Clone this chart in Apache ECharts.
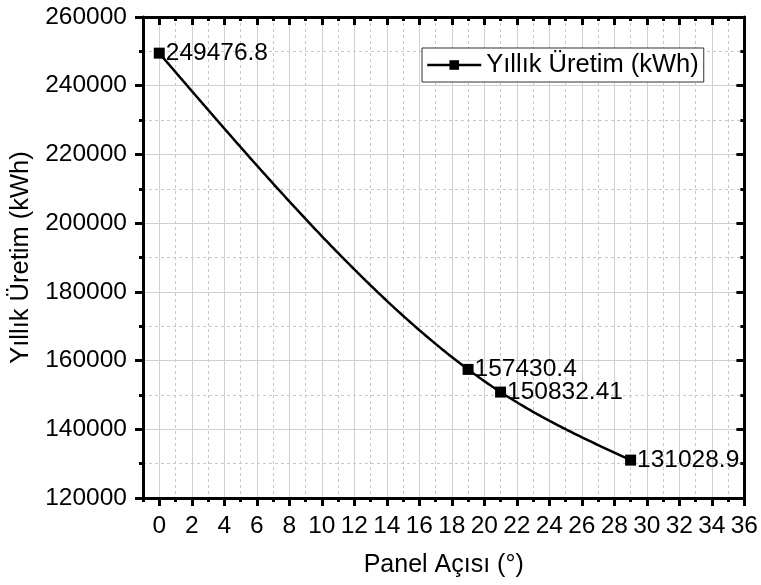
<!DOCTYPE html>
<html>
<head>
<meta charset="utf-8">
<script src="https://cdn.jsdelivr.net/npm/echarts@6/dist/echarts.min.js"></script>
<style>
html, body { margin: 0; padding: 0; background: #fff; }
#chart { width: 761px; height: 585px; }
</style>
</head>
<body>
<div id="chart"></div>
<script>
// chart data
var seriesName = 'Yıllık Üretim (kWh)';
var panelAngles = [0, 19, 21, 29];
var yearlyOutput = [249476.8, 157430.4, 150832.41, 131028.9];
// tick labels
var xTickValues = [0, 2, 4, 6, 8, 10, 12, 14, 16, 18, 20, 22, 24, 26, 28, 30, 32, 34, 36];
var yTickValues = [120000, 140000, 160000, 180000, 200000, 220000, 240000, 260000];

var font = 'Arial, "Liberation Sans", sans-serif';
var xMin = -1, xMax = 36;
var yMin = yTickValues[0], yMax = yTickValues[yTickValues.length - 1];
var yStep = yTickValues[1] - yTickValues[0];

var axisLine = { show: true, onZero: false, lineStyle: { color: '#000', width: 3 } };
var tickLine = { color: '#000', width: 3 };

/**
 * natural cubic spline through the points, like the origin "spline" connect
 */
function makeSpline(xs, ys) {
	var n = xs.length, h = [], m = [], i;
	for (i = 0; i < n - 1; i++) h.push(xs[i + 1] - xs[i]);
	// tridiagonal system for inner second derivatives
	var a = [], b = [], c = [], d = [];
	for (i = 1; i < n - 1; i++) {
		a.push(h[i - 1]);
		b.push(2 * (h[i - 1] + h[i]));
		c.push(h[i]);
		d.push(6 * ((ys[i + 1] - ys[i]) / h[i] - (ys[i] - ys[i - 1]) / h[i - 1]));
	}
	var k = b.length;
	for (i = 1; i < k; i++) {
		var w = a[i] / b[i - 1];
		b[i] -= w * c[i - 1];
		d[i] -= w * d[i - 1];
	}
	var inner = new Array(k);
	for (i = k - 1; i >= 0; i--) {
		inner[i] = (d[i] - (i < k - 1 ? c[i] * inner[i + 1] : 0)) / b[i];
	}
	m = [0].concat(inner, [0]);
	return function(x) {
		var s = 0;
		while (s < n - 2 && x > xs[s + 1]) s++;
		var hs = h[s], x0 = xs[s], x1 = xs[s + 1];
		return m[s] * Math.pow(x1 - x, 3) / (6 * hs)
			+ m[s + 1] * Math.pow(x - x0, 3) / (6 * hs)
			+ (ys[s] / hs - m[s] * hs / 6) * (x1 - x)
			+ (ys[s + 1] / hs - m[s + 1] * hs / 6) * (x - x0);
	};
}
var spline = makeSpline(panelAngles, yearlyOutput);

// minor x axis: every degree, dashed grid
function minorXAxis(pos, inside) {
	return {
		type: 'value', position: pos, min: xMin, max: xMax, interval: 1,
		axisLine: axisLine,
		axisTick: { show: true, inside: inside, length: 4, lineStyle: tickLine },
		axisLabel: { show: false },
		splitLine: { show: pos == 'bottom', lineStyle: { color: '#c8c8c8', width: 1, type: [3, 3] } }
	};
}

// major x axis: even degrees, solid grid
function majorXAxis(pos, inside) {
	return {
		type: 'value', position: pos, min: xMin, max: xMax,
		axisLine: { show: false },
		axisTick: { show: true, inside: inside, length: 8, customValues: xTickValues, lineStyle: tickLine },
		axisLabel: {
			show: pos == 'bottom', customValues: xTickValues, margin: 16,
			fontSize: 24.5, color: '#000', fontFamily: font
		},
		splitLine: { show: pos == 'bottom', lineStyle: { color: '#d0d0d0', width: 1 } }
	};
}

function yAxis(pos, inside) {
	return {
		type: 'value', position: pos, min: yMin, max: yMax, interval: yStep,
		axisLine: axisLine,
		axisTick: { show: true, inside: inside, length: 8, lineStyle: tickLine },
		minorTick: { show: true, splitNumber: 2, length: 4, lineStyle: tickLine },
		axisLabel: {
			show: pos == 'left', margin: 16, fontSize: 24.5, color: '#000', fontFamily: font,
			formatter: function(v) { return String(v); }
		},
		splitLine: { show: pos == 'left', lineStyle: { color: '#d0d0d0', width: 1 } },
		minorSplitLine: { show: pos == 'left', lineStyle: { color: '#c8c8c8', width: 1, type: [3, 3] } }
	};
}

var xBottom = majorXAxis('bottom', false);
xBottom.name = 'Panel Açısı (°)';
xBottom.nameLocation = 'middle';
xBottom.nameGap = 55;
xBottom.nameTextStyle = { fontSize: 25, color: '#000', fontFamily: font };

var yLeft = yAxis('left', false);
yLeft.name = seriesName;
yLeft.nameLocation = 'middle';
yLeft.nameGap = 108;
yLeft.nameTextStyle = { fontSize: 25.5, color: '#000', fontFamily: font };

var option = {
	animation: false,
	backgroundColor: '#fff',
	grid: { left: 143, right: 15, top: 17, bottom: 87 },
	legend: {
		left: 422, top: 48,
		padding: [4, 5, 4, 4],
		borderColor: '#333', borderWidth: 1, borderRadius: 0,
		backgroundColor: '#fff',
		itemWidth: 54, itemHeight: 12,
		lineStyle: { color: '#000', width: 2.5, opacity: 1 },
		textStyle: { fontSize: 25.5, color: '#000', fontFamily: font },
		data: [seriesName]
	},
	xAxis: [
		minorXAxis('bottom', false),
		xBottom,
		minorXAxis('top', true),
		majorXAxis('top', true)
	],
	yAxis: [
		yLeft,
		yAxis('right', true)
	],
	series: [{
		// smooth connecting line, drawn through the axis scales
		name: 'spline',
		type: 'custom',
		coordinateSystem: 'cartesian2d',
		xAxisIndex: 1,
		yAxisIndex: 0,
		silent: true,
		z: 2,
		data: [[panelAngles[0], yearlyOutput[0]]],
		renderItem: function(params, api) {
			var pts = [];
			var x0 = panelAngles[0], x1 = panelAngles[panelAngles.length - 1];
			for (var x = x0; x <= x1 + 1e-9; x += 0.1) {
				pts.push(api.coord([x, spline(Math.min(x, x1))]));
			}
			return {
				type: 'polyline',
				shape: { points: pts },
				style: { stroke: '#000', lineWidth: 2.5, fill: 'none' }
			};
		}
	}, {
		name: seriesName,
		type: 'line',
		xAxisIndex: 1,
		yAxisIndex: 0,
		z: 3,
		symbol: 'rect',
		symbolSize: 11,
		lineStyle: { color: '#000', width: 2.5, opacity: 0 },
		itemStyle: { color: '#000' },
		label: {
			show: true, position: 'right', distance: 1,
			fontSize: 24.5, color: '#000', fontFamily: font,
			formatter: function(p) { return String(p.value[1]); }
		},
		data: panelAngles.map(function(x, i) { return [x, yearlyOutput[i]]; })
	}]
};

var myChart = echarts.init(document.getElementById('chart'));
myChart.setOption(option);
</script>
</body>
</html>
